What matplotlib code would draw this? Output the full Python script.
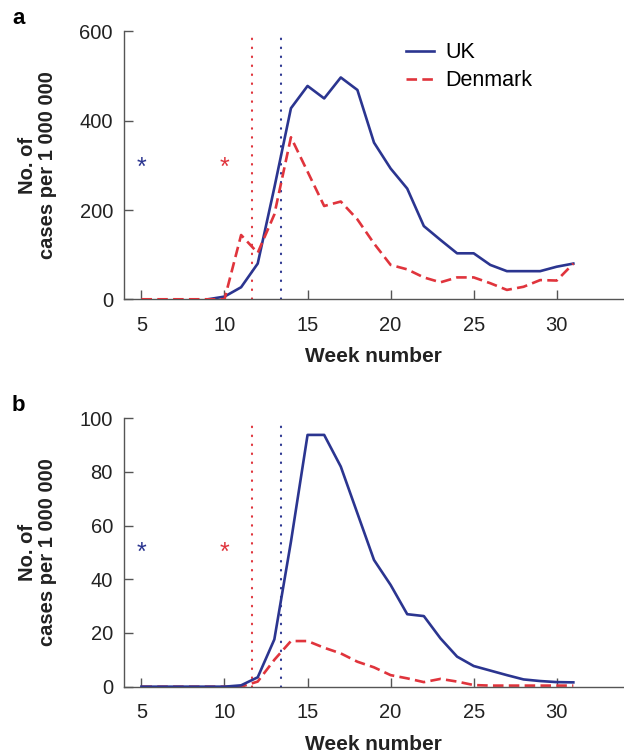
import matplotlib
matplotlib.use("Agg")
import matplotlib.pyplot as plt
from matplotlib.lines import Line2D

plt.rcParams['font.family'] = ['Liberation Sans', 'DejaVu Sans']

NaN = float('nan')
weeks = list(range(5, 32))

uk_a = [NaN, NaN, NaN, NaN, 0, 6, 27, 80, 250, 428, 478, 450, 497, 469, 351, 293, 248,
        164, 133, 103, 103, 77, 63, 63, 63, 73, 80]
dk_a = [0, 0, 0, 0, 0, 0, 144, 104, 190, 363, 286, 209, 219, 179, 125, 77, 67,
        49, 38, 49, 49, 36, 21, 28, 43, 42, 80]

uk_b = [0, 0, 0, 0, 0, 0, 0.5, 3.5, 17.6, 54, 93.8, 93.8, 82, 64.6, 47.2, 37.9,
        27, 26.3, 18, 11.2, 7.7, 6, 4.3, 2.7, 2.1, 1.7, 1.6]
dk_b = [0, 0, 0, 0, 0, 0, 0, 1.9, 10, 17, 17, 14.5, 12.4, 9.3, 7.2, 4.3, 3.1,
        1.7, 2.9, 1.9, 0.6, 0.4, 0.4, 0.4, 0.4, 0.4, 0.4]

vline_dk = 11.64
vline_uk = 13.4
star_weeks = [5, 10]
star_y = [295, 50]
xticks = [5, 10, 15, 20, 25, 30]
yticks_a = [0, 200, 400, 600]
yticks_b = [0, 20, 40, 60, 80, 100]

BLUE = '#2B3590'
RED = '#E0343C'
GREY = '#555555'
TXT = '#222222'

fig = plt.figure(figsize=(6.24, 7.55), dpi=100)
ax_a = fig.add_axes([0.1987, 0.6036, 0.80, 0.3547])
ax_b = fig.add_axes([0.1987, 0.0905, 0.80, 0.3555])

panels = [(ax_a, uk_a, dk_a, yticks_a, 600, star_y[0], 'a', 0.976, 2, 3),
          (ax_b, uk_b, dk_b, yticks_b, 100, star_y[1], 'b', 0.463, 3, 2)]

for ax, uk, dk, yt, ymax, sy, lab, ly, zu, zd in panels:
    ax.plot(weeks, uk, color=BLUE, lw=1.9, label='UK', zorder=zu)
    ax.plot(weeks, dk, color=RED, lw=1.9, dashes=(4, 2), label='Denmark', zorder=zd)
    ax.plot([vline_dk, vline_dk], [0, ymax * 0.98], color=RED, lw=1.5,
            linestyle=(0, (0.3, 4.0)), dash_capstyle='round', zorder=1)
    ax.plot([vline_uk, vline_uk], [0, ymax * 0.98], color=BLUE, lw=1.5,
            linestyle=(0, (0.3, 4.0)), dash_capstyle='round', zorder=1)
    ax.text(star_weeks[0], sy, '*', color=BLUE, fontsize=18, ha='center', va='center')
    ax.text(star_weeks[1], sy, '*', color=RED, fontsize=18, ha='center', va='center')
    ax.set_xlim(3.95, 34)
    ax.set_ylim(0, ymax)
    ax.set_xticks(xticks)
    ax.set_yticks(yt)
    for s in ['top', 'right']:
        ax.spines[s].set_visible(False)
    for s in ['left', 'bottom']:
        ax.spines[s].set_color(GREY)
        ax.spines[s].set_linewidth(1.0)
    ax.tick_params(axis='both', direction='in', length=6.5, width=1.0,
                   color=GREY, labelsize=14.5, labelcolor=TXT)
    ax.tick_params(axis='x', pad=12)
    ax.tick_params(axis='y', pad=8)
    ax.set_xlabel('Week number', fontsize=15, fontweight='bold', labelpad=9,
                  color=TXT)
    ax.set_ylabel('No. of\ncases per 1 000 000', fontsize=14.5, fontweight='bold',
                  labelpad=16, color=TXT, linespacing=1.1)
    fig.text(0.029, ly, lab, fontsize=16, fontweight='bold', ha='center', va='center')

handles = [Line2D([], [], color=BLUE, lw=1.9),
           Line2D([], [], color=RED, lw=1.9, dashes=(4, 2))]
ax_a.legend(handles, ['UK', 'Denmark'], loc='upper left', bbox_to_anchor=(0.564, 0.96),
            frameon=False, fontsize=15.5, handlelength=1.3, handletextpad=0.56,
            labelspacing=0.32, borderpad=0, borderaxespad=0)

fig.savefig('out.png', dpi=100)
